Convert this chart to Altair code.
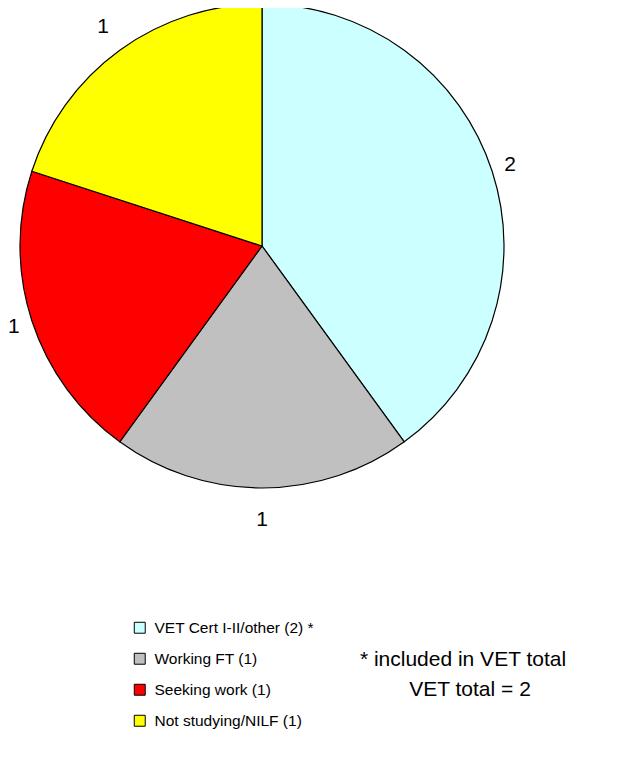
import altair as alt
import pandas as pd

categories = ["VET Cert I-II/other (2) *", "Working FT (1)", "Seeking work (1)", "Not studying/NILF (1)"]
values = [2, 1, 1, 1]
colors = ["#CCFFFF", "#C0C0C0", "#FF0000", "#FFFF00"]
notes = ["* included in VET total", "VET total = 2"]

df = pd.DataFrame({"category": categories, "value": values, "order": list(range(len(values)))})

cx, cy, R = 254, 238, 242
FONT = "Liberation Sans"

pie = alt.Chart(df).mark_arc(outerRadius=R, stroke="black", strokeWidth=1.2).encode(
    theta=alt.Theta("value:Q", stack=True),
    order=alt.Order("order:Q"),
    x=alt.value(cx), y=alt.value(cy),
    color=alt.Color(
        "category:N",
        scale=alt.Scale(domain=categories, range=colors),
        sort=categories,
        legend=alt.Legend(
            title=None, orient="none", legendX=124, legendY=612,
            symbolType="square", symbolSize=120, symbolStrokeColor="black",
            symbolStrokeWidth=1, labelFontSize=15.5, labelFont=FONT,
            labelColor="black", rowPadding=14, labelOffset=7,
        ),
    ),
)

# label angle = middle of each slice; distance grows where the tall digit box faces the pie vertically
labels = alt.Chart(df).transform_joinaggregate(
    total="sum(value)"
).transform_window(
    cum="sum(value)", sort=[alt.SortField("order")]
).transform_calculate(
    mid="(datum.cum - datum.value/2) / datum.total * 2 * PI",
    r="255 + 19 * abs(cos(datum.mid))",
).mark_text(fontSize=21, font=FONT, color="black", baseline="middle").encode(
    x=alt.value(cx), y=alt.value(cy), text=alt.Text("value:Q"),
    theta=alt.Theta("mid:Q", scale=None, stack=False),
    radius=alt.Radius("r:Q", scale=None),
)

notes_df = pd.DataFrame({"t": notes})
note1 = alt.Chart(notes_df.iloc[[0]]).mark_text(fontSize=21, font=FONT, color="black", align="center", baseline="middle").encode(
    x=alt.value(455), y=alt.value(652), text="t:N")
note2 = alt.Chart(notes_df.iloc[[1]]).mark_text(fontSize=21, font=FONT, color="black", align="center", baseline="middle").encode(
    x=alt.value(462), y=alt.value(682), text="t:N")

chart = alt.layer(pie, labels, note1, note2).properties(
    width=617, height=742, padding=0, autosize=alt.AutoSizeParams(type="none")
).configure_view(stroke=None)

chart.save("out.html", embed_options={"renderer": "svg", "actions": False})
